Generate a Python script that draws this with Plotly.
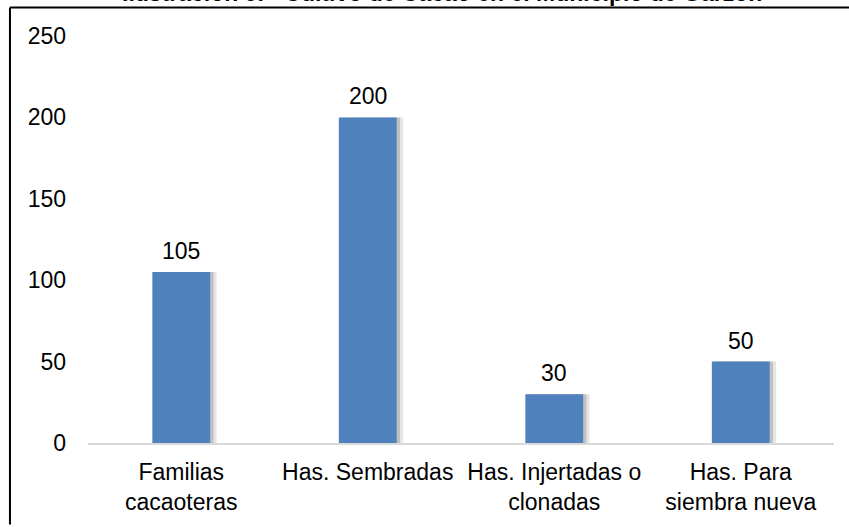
import plotly.graph_objects as go

categories = ["Familias<br>cacaoteras", "Has. Sembradas", "Has. Injertadas o<br>clonadas", "Has. Para<br>siembra nueva"]
values = [105, 200, 30, 50]
y_ticks = [0, 50, 100, 150, 200, 250]
title_text = "Ilustración 9. - Cultivo de Cacao en el Municipio de Garzón"

FONT = "Liberation Sans, Arial, sans-serif"
FS = 23
BAR_W = 0.31

fig = go.Figure()
# soft shadow behind bars
fig.add_trace(go.Bar(x=categories, y=values, width=BAR_W, offset=-BAR_W / 2 + 0.035,
                     marker=dict(color="rgba(0,0,0,0.10)", line=dict(width=0)),
                     hoverinfo="skip", showlegend=False))
fig.add_trace(go.Bar(x=categories, y=values, width=BAR_W, offset=-BAR_W / 2 + 0.018,
                     marker=dict(color="rgba(0,0,0,0.16)", line=dict(width=0)),
                     hoverinfo="skip", showlegend=False))
fig.add_trace(go.Bar(x=categories, y=values, width=BAR_W, offset=-BAR_W / 2,
                     marker=dict(color="#4F81BD", line=dict(width=0)),
                     showlegend=False))

for c, v in zip(categories, values):
    fig.add_annotation(x=c, y=v, text=str(v), showarrow=False, yanchor="bottom",
                       yshift=6, font=dict(family=FONT, size=FS, color="#000000"))

fig.add_annotation(xref="paper", yref="paper", x=0.4745, y=1.106, text=f"<b>{title_text}</b>",
                   showarrow=False, xanchor="center", yanchor="middle",
                   font=dict(family=FONT, size=FS, color="#000000"))

# frame lines (left and top)
fig.add_shape(type="line", xref="paper", yref="paper", x0=-0.1046, x1=-0.1046, y0=-0.2, y1=1.0702,
              line=dict(color="#000000", width=2))
fig.add_shape(type="line", xref="paper", yref="paper", x0=-0.1046, x1=1.03, y0=1.0702, y1=1.0702,
              line=dict(color="#000000", width=2))

fig.update_layout(
    width=849, height=527,
    margin=dict(l=88, r=15, t=36, b=74),
    paper_bgcolor="white", plot_bgcolor="white",
    barmode="overlay",
    font=dict(family=FONT, size=FS, color="#000000"),
    xaxis=dict(showgrid=False, showline=True, linecolor="#D9D9D9", linewidth=1.5,
               ticks="", ticklabelstandoff=8, tickfont=dict(size=FS, color="#000000")),
    yaxis=dict(range=[0, 250], tickvals=y_ticks, showgrid=False, zeroline=False,
               showline=False, ticks="", ticklabelstandoff=21,
               tickfont=dict(size=FS, color="#000000")),
)

fig.write_html("out.html", config={"displayModeBar": False},
               post_script="document.body.style.margin='0';document.body.style.overflow='hidden';")
